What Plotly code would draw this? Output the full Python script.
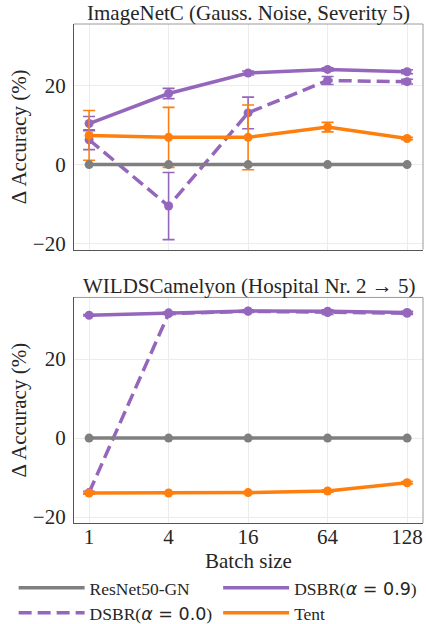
import plotly.graph_objects as go
from plotly.subplots import make_subplots

# Batch sizes (categorical, evenly spaced)
batch_sizes = ["1", "4", "16", "64", "128"]

# ImageNetC (Gauss. Noise, Severity 5): delta accuracy (%) and std
inc_resnet = [0, 0, 0, 0, 0]
inc_dsbr09 = [10.4, 18.0, 23.2, 24.1, 23.5]
inc_dsbr09_err = [1.8, 1.3, 0.5, 0.4, 0.5]
inc_dsbr00 = [6.3, -10.5, 13.1, 21.3, 21.0]
inc_dsbr00_err = [2.5, 8.5, 4.0, 1.0, 0.6]
inc_tent = [7.4, 6.9, 6.9, 9.5, 6.6]
inc_tent_err = [6.3, 7.6, 8.2, 1.2, 0.3]

# WILDSCamelyon (Hospital Nr. 2 -> 5)
cam_resnet = [0, 0, 0, 0, 0]
cam_dsbr09 = [31.1, 31.7, 32.2, 32.1, 31.8]
cam_dsbr09_err = [0.2, 0.2, 0.3, 0.4, 0.3]
cam_dsbr00 = [-13.8, 31.5, 32.1, 31.8, 31.6]
cam_dsbr00_err = [0.3, 0.2, 0.3, 0.5, 0.3]
cam_tent = [-13.9, -13.9, -13.8, -13.4, -11.3]
cam_tent_err = [0.3, 0.2, 0.2, 0.3, 0.3]

GREY = "#7f7f7f"
PURPLE = "#9467bd"
ORANGE = "#ff7f0e"
SERIF = "Liberation Serif"
MATH = "DejaVu Sans"
TEXT = "#262626"
DASH = "13px,6px"

names = {
    "resnet": "ResNet50-GN",
    "dsbr09": f"DSBR(<span style='font-family:{MATH}'><i>α</i> = 0.9</span>)",
    "dsbr00": f"DSBR(<span style='font-family:{MATH}'><i>α</i> = 0.0</span>)",
    "tent": "Tent",
}

fig = make_subplots(rows=2, cols=1, shared_xaxes=False, vertical_spacing=0.096)


def add_series(row, y, err, color, name, dash):
    fig.add_trace(
        go.Scatter(
            x=batch_sizes,
            y=y,
            mode="lines+markers",
            name=name,
            showlegend=False,
            line=dict(color=color, width=3.5, dash=dash),
            marker=dict(color=color, size=9),
            error_y=dict(type="data", array=err, color=color, thickness=1.6, width=6)
            if err is not None else None,
            cliponaxis=False,
        ),
        row=row, col=1,
    )


panels = [
    (1, inc_resnet, inc_dsbr09, inc_dsbr09_err, inc_dsbr00, inc_dsbr00_err, inc_tent, inc_tent_err),
    (2, cam_resnet, cam_dsbr09, cam_dsbr09_err, cam_dsbr00, cam_dsbr00_err, cam_tent, cam_tent_err),
]
for row, res, d9, d9e, d0, d0e, te, tee in panels:
    add_series(row, d9, d9e, PURPLE, names["dsbr09"], "solid")
    add_series(row, d0, d0e, PURPLE, names["dsbr00"], DASH)
    add_series(row, te, tee, ORANGE, names["tent"], "solid")
    add_series(row, res, None, GREY, names["resnet"], "solid")

# legend entries laid out as a 2x2 grid, lines only
legend_entries = [
    ("legend", names["resnet"], GREY, "solid", -0.173, -0.094),
    ("legend2", names["dsbr09"], PURPLE, "solid", 0.413, -0.094),
    ("legend3", names["dsbr00"], PURPLE, DASH, -0.173, -0.144),
    ("legend4", names["tent"], ORANGE, "solid", 0.413, -0.144),
]
legend_layout = {}
for lg, name, color, dash, lx, ly in legend_entries:
    fig.add_trace(go.Scatter(
        x=[None], y=[None], mode="lines", name=name, legend=lg,
        line=dict(color=color, width=3.5, dash=dash),
    ), row=2, col=1)
    legend_layout[lg] = dict(
        x=lx, y=ly, xanchor="left", yanchor="top", orientation="v",
        font=dict(family=SERIF, size=17.5, color=TEXT),
        itemwidth=66, bgcolor="rgba(0,0,0,0)",
    )

axis_common = dict(
    showgrid=True, gridcolor="#ececec", gridwidth=1,
    showline=True, linecolor="#555555", linewidth=1.2,
    zeroline=False, ticks="",
    tickfont=dict(family=SERIF, size=21, color=TEXT),
)

for r in (1, 2):
    fig.update_xaxes(
        type="category", range=[-0.19, 4.2], row=r, col=1,
        showticklabels=(r == 2), ticklabelstandoff=-5, **axis_common,
    )
    fig.update_yaxes(
        range=[-21.5, 35.6], tickvals=[-20, 0, 20], ticktext=["−20", "0", "20"],
        ticklabelstandoff=3, row=r, col=1, **axis_common,
        title=dict(text="Δ Accuracy (%)", font=dict(family=SERIF, size=21, color=TEXT), standoff=0),
    )

fig.update_xaxes(
    title=dict(text="Batch size", font=dict(family=SERIF, size=21, color=TEXT), standoff=0),
    row=2, col=1,
)

# light frame on the top and right sides of each panel
for ax in ("x", "x2"):
    yref = "y domain" if ax == "x" else "y2 domain"
    fig.add_shape(type="line", xref=f"{ax} domain", yref=yref, x0=0, x1=1, y0=1, y1=1,
                  line=dict(color="#9a9a9a", width=1))
    fig.add_shape(type="line", xref=f"{ax} domain", yref=yref, x0=1, x1=1, y0=0, y1=1,
                  line=dict(color="#9a9a9a", width=1))

titles = [
    ("x domain", "y domain", "ImageNetC (Gauss. Noise, Severity 5)"),
    ("x2 domain", "y2 domain", "WILDSCamelyon (Hospital Nr. 2 → 5)"),
]
for xr, yr, txt in titles:
    fig.add_annotation(
        xref=xr, yref=yr, x=0.5, y=1, yanchor="middle", yshift=11,
        text=txt, showarrow=False,
        font=dict(family=SERIF, size=21, color=TEXT),
    )

fig.update_layout(
    width=426, height=624,
    margin=dict(l=74, r=3, t=24, b=101, autoexpand=False),
    plot_bgcolor="white", paper_bgcolor="white",
    font=dict(family=SERIF, color=TEXT),
    **legend_layout,
)

fig.write_html("out.html")
